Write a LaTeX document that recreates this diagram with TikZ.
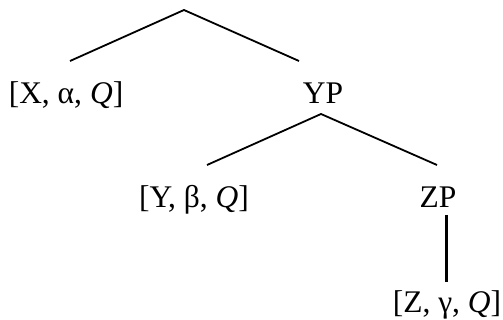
\documentclass[tikz,border=0pt]{standalone}
\usepackage{fontspec}
\setmainfont{Liberation Serif}
\begin{document}
\begin{tikzpicture}[x=1pt,y=-1pt,
  lbl/.style={anchor=base,inner sep=0pt,font=\fontsize{31.5}{37}\selectfont},
  branch/.style={line width=1.8pt},
  stem/.style={line width=3pt}]
\useasboundingbox (0,0) rectangle (503,320);
\node[lbl] (x) at (66,104) {[X, α, \textit{Q}]};
\node[lbl] (yp) at (323,104) {YP};
\node[lbl] (y) at (194,208) {[Y, β, \textit{Q}]};
\node[lbl] (zp) at (438,208) {ZP};
\node[lbl] (z) at (447,312) {[Z, γ, \textit{Q}]};
\coordinate (root) at (184,10);
\coordinate (xt) at (70,61);
\coordinate (ypt) at (299,61);
\coordinate (ypb) at (321,114);
\coordinate (yt) at (207,165);
\coordinate (zpt) at (437,165);
\coordinate (zpb) at (446,215);
\coordinate (zt) at (446,282);
\draw[branch] (xt) -- (root) -- (ypt);
\draw[branch] (yt) -- (ypb) -- (zpt);
\draw[stem] (zpb) -- (zt);
\end{tikzpicture}
\end{document}
